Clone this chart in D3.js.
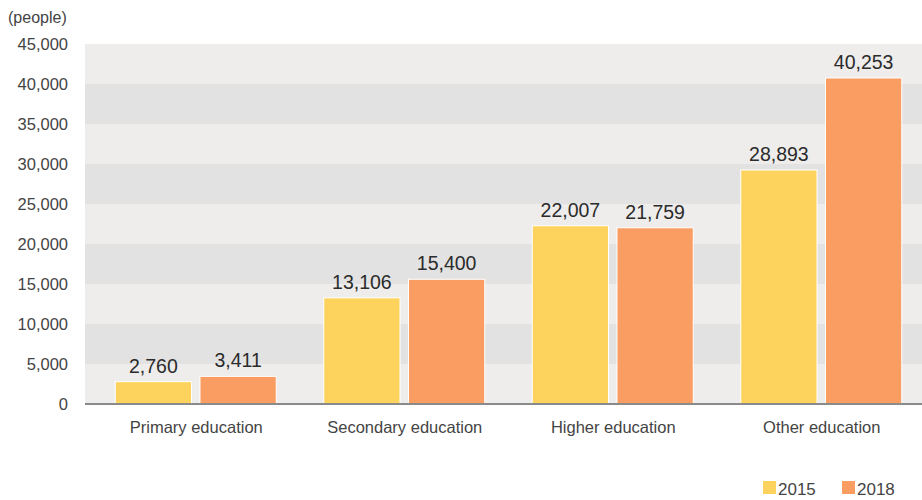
<!DOCTYPE html>
<html>
<head>
<meta charset="utf-8">
<script src="https://cdn.jsdelivr.net/npm/d3@7"></script>
<style>
  body { margin: 0; background: #fff; }
  svg text { font-family: "Liberation Sans", Arial, sans-serif; }
</style>
</head>
<body>
<div id="chart"></div>
<script>
'use strict';

var categories = ['Primary education', 'Secondary education', 'Higher education', 'Other education'];
var years = ['2015', '2018'];
var values2015 = [2760, 13106, 22007, 28893];
var values2018 = [3411, 15400, 21759, 40253];
var yTicks = [0, 5000, 10000, 15000, 20000, 25000, 30000, 35000, 40000, 45000];
var unitLabel = '(people)';

var colors = { '2015': '#fed35d', '2018': '#f99d62' };

var width = 922, height = 500;
var plot = { left: 85, right: 922, top: 44, bottom: 404 };

var svg = d3.select('#chart').append('svg')
    .attr('width', width)
    .attr('height', height);

var y = d3.scaleLinear().domain([0, 45000]).range([plot.bottom, plot.top]);
// the source draws its bars on a slightly stretched scale
var yBar = d3.scaleLinear().domain([0, 44450]).range([plot.bottom, plot.top]);

var x0 = d3.scaleBand().domain(categories).range([92, 926]).paddingInner(0).paddingOuter(0);

var x1 = d3.scaleBand().domain(years).range([0, 161]).paddingInner(0.1);

// background bands
var bands = yTicks.slice(0, -1);
svg.append('g').selectAll('rect').data(bands).enter().append('rect')
    .attr('x', plot.left)
    .attr('width', plot.right - plot.left)
    .attr('y', function (d) { return y(d + 5000); })
    .attr('height', function (d) { return y(d) - y(d + 5000); })
    .attr('fill', function (d, i) { return i % 2 === 0 ? '#eeedec' : '#e2e2e2'; });

// y axis labels
var yAxis = d3.axisLeft(y).tickValues(yTicks).tickSize(0).tickPadding(0)
    .tickFormat(d3.format(','));
var yg = svg.append('g').attr('transform', 'translate(68,0)').call(yAxis);
yg.select('.domain').remove();
yg.selectAll('text').attr('font-size', 16.5).attr('fill', '#444').attr('dy', '0.35em');

svg.append('text')
    .attr('x', 8).attr('y', 23)
    .attr('font-size', 16).attr('fill', '#444')
    .text(unitLabel);

// bars
var rows = categories.map(function (c, i) {
    return { category: c, values: [{ year: '2015', value: values2015[i] }, { year: '2018', value: values2018[i] }] };
});

var groups = svg.append('g').selectAll('g').data(rows).enter().append('g')
    .attr('transform', function (d) { return 'translate(' + (x0(d.category) + x0.bandwidth() / 2 - 81) + ',0)'; });

groups.selectAll('rect').data(function (d) { return d.values; }).enter().append('rect')
    .attr('x', function (d) { return x1(d.year); })
    .attr('width', x1.bandwidth())
    .attr('y', function (d) { return yBar(d.value); })
    .attr('height', function (d) { return yBar(0) - yBar(d.value); })
    .attr('fill', function (d) { return colors[d.year]; })
    .attr('stroke', '#fff')
    .attr('stroke-width', 1);

groups.selectAll('text').data(function (d) { return d.values; }).enter().append('text')
    .attr('x', function (d) { return x1(d.year) + x1.bandwidth() / 2; })
    .attr('y', function (d) { return yBar(d.value) - 9; })
    .attr('text-anchor', 'middle')
    .attr('font-family', 'Roboto, sans-serif')
    .attr('font-size', 19.5)
    .attr('font-weight', 500)
    .attr('fill', '#2b2b2b')
    .text(function (d) { return d3.format(',')(d.value); });

// baseline
svg.append('line')
    .attr('x1', plot.left).attr('x2', plot.right)
    .attr('y1', y(0)).attr('y2', y(0))
    .attr('stroke', '#8a8a8a').attr('stroke-width', 2);

// category labels
var xAxis = d3.axisBottom(x0).tickSize(0).tickPadding(0);
var xg = svg.append('g').attr('transform', 'translate(0,' + (plot.bottom + 29) + ')').call(xAxis);
xg.select('.domain').remove();
xg.selectAll('text').attr('font-size', 16.5).attr('fill', '#444').attr('dy', 0)
    .attr('x', 0);

// legend
var legend = svg.append('g').selectAll('g').data(years).enter().append('g')
    .attr('transform', function (d, i) { return 'translate(' + (763 + i * 79) + ',481)'; });
legend.append('rect').attr('width', 13).attr('height', 13)
    .attr('fill', function (d) { return colors[d]; });
legend.append('text').attr('x', 15).attr('y', 13.5)
    .attr('font-size', 17).attr('fill', '#444')
    .text(function (d) { return d; });
</script>
</body>
</html>
